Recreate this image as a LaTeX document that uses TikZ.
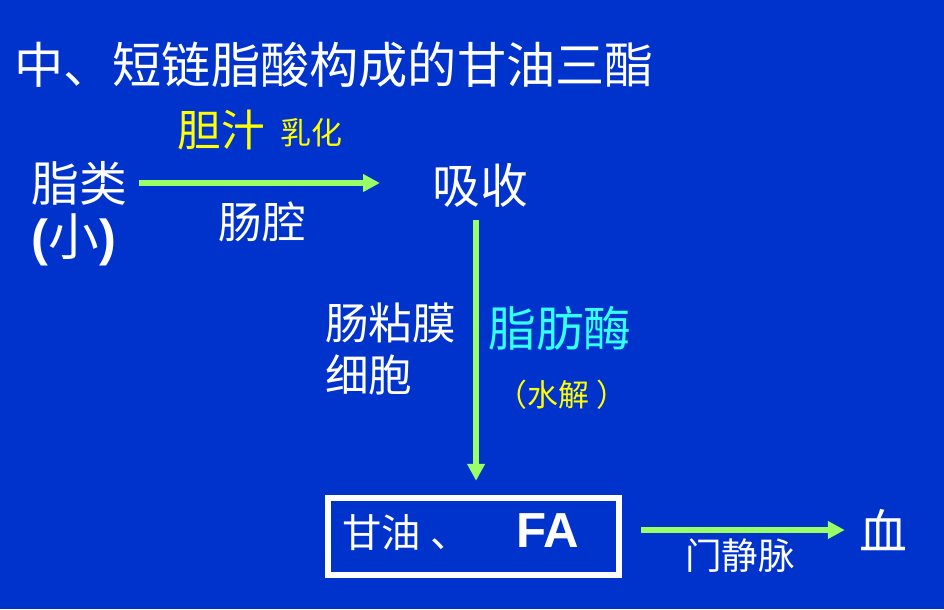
\documentclass[tikz,border=0pt]{standalone}
\usepackage{fontspec}
\setmainfont{Noto Sans CJK SC}
\newfontfamily\latinbf{Liberation Sans}
\usepackage{tikz}
\usetikzlibrary{arrows.meta, positioning}

\definecolor{slideblue}{HTML}{0033CC}
\definecolor{flowgreen}{HTML}{99FF66}
\definecolor{lipcyan}{HTML}{33FFFF}
\definecolor{bileyellow}{HTML}{FFFF00}

\tikzset{
  txt/.style={inner sep=0pt, text=white, font=\fontsize{34}{40}\selectfont},
  midtxt/.style={txt, font=\fontsize{31}{37}\selectfont},
  flow/.style={draw=flowgreen, line width=4.3pt, -{Triangle[length=12pt, width=12pt]}}
}

\begin{document}
\begin{tikzpicture}[x=0.7113pt, y=-0.7113pt]

  % background
  \fill[slideblue] (0,0) rectangle (944,609);
  \useasboundingbox (0,0) rectangle (944,609);

  % title
  \node[txt, anchor=west, font=\fontsize{35}{40}\selectfont] (title) at (14,65) {中、短链脂酸构成的甘油三酯};

  % lipid in the gut
  \node[txt] (lipid) at (79,183) {脂类};
  \node[txt, font=\fontsize{36}{40}\selectfont] (small) at (74,240) {{\latinbf\bfseries (}小{\latinbf\bfseries )}};

  % bile emulsifies
  \node[midtxt, text=bileyellow] (bile) at (221,130) {胆汁};
  \node[txt, text=bileyellow, font=\fontsize{22}{26}\selectfont] (emuls) at (311,133) {乳化};
  \node[midtxt] (lumen) at (262,222) {肠腔};

  % absorption
  \node[txt] (absorb) at (480,185) {吸收};

  % mucosa and lipase
  \node[midtxt, anchor=north west, align=left, font=\fontsize{31}{37}\selectfont] (mucosa) at (325,303) {肠粘膜\\细胞};
  \node[txt, text=lipcyan] (lipase) at (560,328) {脂肪酶};
  \node[txt, text=bileyellow, font=\fontsize{22}{26}\selectfont] (hydro) at (562,395) {（水解 ）};

  % products
  \node[draw=white, line width=4.3pt, text width=207pt, align=left, inner sep=0pt,
        text height=35pt, text depth=20pt, text=white, font=\fontsize{28}{34}\selectfont] (box) at (473.5,536.5)
        {\hspace*{10pt}甘油\hspace{7pt}、\hspace{33pt}{\latinbf\bfseries\fontsize{35}{40}\selectfont FA}};
  \node[txt] (blood) at (883,530) {血};
  \node[txt, font=\fontsize{26}{30}\selectfont] (portal) at (740,556) {门静脉};

  % arrows
  \draw[flow, shorten <=8.7pt, shorten >=37pt] (lipid.east) -- (lipid.east -| absorb.west);
  \draw[flow, shorten <=9pt, shorten >=10pt] ([xshift=-2.8pt]absorb.south) -- ([xshift=-2.8pt]absorb.south |- box.north);
  \draw[flow, shorten <=13.5pt, shorten >=10pt] (box.east |- blood.west) -- (blood.west);

\end{tikzpicture}
\end{document}
